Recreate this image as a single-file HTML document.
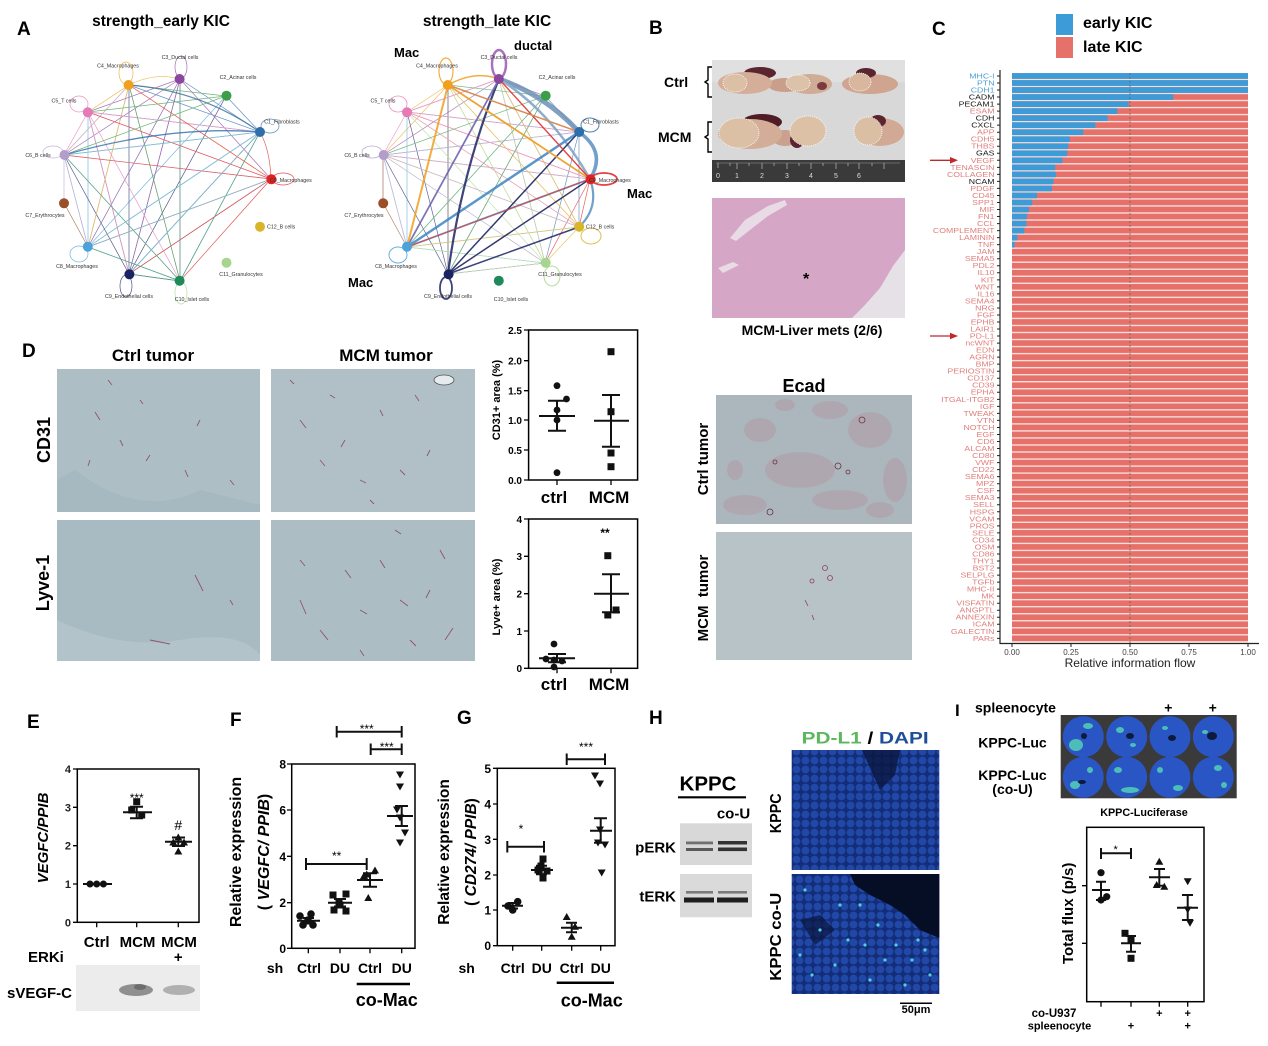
<!DOCTYPE html>
<html><head><meta charset="utf-8"><style>
html,body{margin:0;padding:0;background:#fff;}
svg{display:block;}
text{font-family:"Liberation Sans",Arial,sans-serif;}
</style></head><body>
<svg width="1268" height="1046" viewBox="0 0 1268 1046" xmlns="http://www.w3.org/2000/svg">
<defs>
<pattern id="bars" patternUnits="userSpaceOnUse" x="0" y="73.1" width="20" height="7.03"><rect width="20" height="5.75" fill="#e5716a"/><rect y="5.75" width="20" height="1.28" fill="#fadcd9"/></pattern>
<pattern id="cells" patternUnits="userSpaceOnUse" width="9" height="9"><rect width="9" height="9" fill="#132d78"/><circle cx="4.5" cy="4.5" r="3.9" fill="#2148a6"/></pattern>
<pattern id="cells2" patternUnits="userSpaceOnUse" width="9" height="9" x="3" y="2"><rect width="9" height="9" fill="#132d78"/><circle cx="4.5" cy="4.5" r="3.9" fill="#2148a6"/></pattern>
</defs>
<rect width="1268" height="1046" fill="#fff"/>

<!-- ============ PANEL A ============ -->
<text x="17" y="35" font-size="19" font-weight="bold">A</text>
<text x="161" y="26" font-size="15.5" font-weight="bold" text-anchor="middle">strength_early KIC</text>
<text x="487" y="26" font-size="15.5" font-weight="bold" text-anchor="middle">strength_late KIC</text>

<g fill="none" stroke-width="0.7" opacity="0.75">
<path stroke="#2e6eaa" d="M260 132L129 85 M260 132L88 112 M260 132L64 155 M260 132L88 247 M260 132L129 274 M260 132L180 281 M260 132L180 79 M260 132L226 96"/>
<path stroke="#4ba3da" d="M88 247L180 79 M88 247L129 85 M88 247L271 179 M88 247L180 281 M88 247L88 112 M88 247L64 155 M88 247L226 96 M88 247L260 132"/>
<path stroke="#1b2463" d="M129 274L180 79 M129 274L129 85 M129 274L64 155 M129 274L271 179 M129 274L88 112 M129 274L260 132 M129 274L180 281 M129 274L226 96"/>
<path stroke="#efa01f" d="M129 85L88 112 M129 85L64 155 M129 85L271 179 M129 85L180 281 M129 85L88 247 M129 85Q155 72 180 79"/>
<path stroke="#8b46a0" d="M180 79L88 112 M180 79L64 155 M180 79L271 179 M180 79L180 281 M180 79L88 247 M180 79L129 274"/>
<path stroke="#e67ab5" d="M88 112L64 155 M88 112L271 179 M88 112L180 281 M88 112L260 132 M88 112L129 274"/>
<path stroke="#b39dcb" d="M64 155L64 203 M64 155L88 247 M64 155L180 281 M64 155L271 179 M64 155L129 85"/>
<path stroke="#dd2323" d="M271 179L88 112 M271 179L64 155 M271 179L88 247 M271 179L129 274 M271 179L180 281 M271 179L129 85 M271 179Q270 150 260 132"/>
<path stroke="#1e8a5a" d="M180 281L129 274 M180 281L180 79 M180 281L129 85 M180 281L64 155 M180 281L260 132 M180 281L88 247"/>
<path stroke="#3c9e48" d="M226 96L129 85 M226 96L64 155 M226 96L88 112"/>
<path stroke="#9a4f28" d="M64 203L88 247"/>
<path stroke="#5ab0c8" d="M88 247L260 132 M64 155L260 132 M129 274L260 132 M88 247L271 179"/>
</g>
<path d="M64 155Q170 125 260 132" fill="none" stroke="#2e6eaa" stroke-width="1.3" opacity="0.8"/>
<path d="M129 85Q200 90 260 132" fill="none" stroke="#3d6f9e" stroke-width="1.2" opacity="0.8"/>
<g fill="none" stroke-width="0.7" opacity="0.8">
<ellipse cx="126" cy="73" rx="7" ry="11" stroke="#efa01f"/>
<ellipse cx="181" cy="67" rx="6" ry="11" stroke="#8b46a0"/>
<ellipse cx="79" cy="104" rx="9" ry="8" stroke="#e67ab5"/>
<ellipse cx="53" cy="152" rx="10" ry="6" stroke="#b39dcb"/>
<ellipse cx="270" cy="126" rx="9" ry="7" stroke="#2e6eaa"/>
<ellipse cx="283" cy="179" rx="11" ry="6" stroke="#dd2323"/>
<ellipse cx="79" cy="254" rx="9" ry="8" stroke="#4ba3da"/>
<ellipse cx="126" cy="286" rx="6" ry="11" stroke="#1b2463"/>
<ellipse cx="181" cy="293" rx="6" ry="11" stroke="#a6d58d"/>
</g>
<g>
<circle cx="260" cy="132" r="5" fill="#2e6eaa"/><circle cx="226.5" cy="95.7" r="5" fill="#3c9e48"/>
<circle cx="179.6" cy="79" r="5" fill="#8b46a0"/><circle cx="128.6" cy="85" r="5" fill="#efa01f"/>
<circle cx="87.8" cy="112.3" r="5" fill="#e67ab5"/><circle cx="64.5" cy="155" r="5" fill="#b39dcb"/>
<circle cx="64" cy="203.3" r="5" fill="#9a4f28"/><circle cx="87.8" cy="246.7" r="5" fill="#4ba3da"/>
<circle cx="129.4" cy="274.3" r="5" fill="#1b2463"/><circle cx="179.6" cy="280.7" r="5" fill="#1e8a5a"/>
<circle cx="226.5" cy="262.7" r="5" fill="#a6d58d"/><circle cx="260" cy="226.7" r="5" fill="#d8b52a"/>
<circle cx="271.4" cy="179.3" r="5" fill="#dd2323"/>
</g>
<g font-size="5.3" fill="#333" text-anchor="middle">
<text x="118" y="67.5">C4_Macrophages</text><text x="180" y="59">C3_Ductal cells</text>
<text x="238" y="79">C2_Acinar cells</text><text x="282" y="123.5">C1_Fibroblasts</text>
<text x="270" y="181.8" text-anchor="start">C9_Macrophages</text><text x="267" y="228.5" text-anchor="start">C12_B cells</text>
<text x="241" y="275.8">C11_Granulocytes</text><text x="192" y="301">C10_Islet cells</text>
<text x="129" y="297.8">C9_Endothelial cells</text><text x="77" y="267.8">C8_Macrophages</text>
<text x="45" y="216.8">C7_Erythrocytes</text><text x="38" y="156.8">C6_B cells</text>
<text x="64" y="102.5">C5_T cells</text>
</g>

<!-- late network -->
<g fill="none" stroke-width="0.7" opacity="0.7">
<path stroke="#2e6eaa" d="M579 132L407 112 M579 132L383 155 M579 132L448 274 M579 132L545 96 M579 132L545 263 M579 132L579 227"/>
<path stroke="#efa01f" d="M448 85L407 112 M448 85L383 155 M448 85L545 263 M448 85L448 274 M448 85L579 227"/>
<path stroke="#8b46a0" d="M499 79L407 112 M499 79L383 155 M499 79L545 263 M499 79L579 227 M499 79L545 96"/>
<path stroke="#4ba3da" d="M407 247L407 112 M407 247L383 155 M407 247L579 227 M407 247L545 263 M407 247L545 96"/>
<path stroke="#1b2463" d="M448 274L407 112 M448 274L383 155 M448 274L448 85 M448 274L545 263 M448 274L545 96"/>
<path stroke="#dd2323" d="M590 179L407 112 M590 179L383 155 M590 179L448 274 M590 179L579 227 M590 179L545 263 M590 179L448 85"/>
<path stroke="#d8b52a" d="M579 227L407 247 M579 227L383 155 M579 227L407 112 M579 227L448 85 M579 227L499 79 M579 227L545 263"/>
<path stroke="#a6d58d" d="M545 263L448 274 M545 263L407 247 M545 263L383 155 M545 263L448 85 M545 263L499 79 M545 263L407 112"/>
<path stroke="#e67ab5" d="M407 112L499 79 M407 112L579 132 M407 112L590 179 M407 112L579 227 M407 112L383 155"/>
<path stroke="#b39dcb" d="M383 155L579 132 M383 155L590 179 M383 155L579 227 M383 155L545 263 M383 155L383 203 M383 155L407 247"/>
<path stroke="#3c9e48" d="M545 96L448 85 M545 96L407 247 M545 96L383 155 M545 96L448 274"/>
<path stroke="#9a4f28" d="M383 203L383 155 M383 203L407 247"/>
</g>
<g fill="none" opacity="0.85">
<path d="M499 79Q545 95 579 132" stroke="#6d90b6" stroke-width="5"/>
<path d="M499 79Q550 110 590 179" stroke="#7fa0c4" stroke-width="2.5"/>
<path d="M579 132Q607 152 590 179" stroke="#5b8fc2" stroke-width="3.5"/>
<path d="M590 179Q600 207 579 227" stroke="#5b8fc2" stroke-width="2.2"/>
<path d="M407 247L579 132" stroke="#3a86c6" stroke-width="2.5"/>
<path d="M407 247L590 179" stroke="#4ba3da" stroke-width="2"/>
<path d="M448 274Q462 170 499 79" stroke="#1b2463" stroke-width="2.2"/>
<path d="M448 274L579 132" stroke="#1b2463" stroke-width="1.5"/>
<path d="M448 274L590 179" stroke="#1b2463" stroke-width="1.5"/>
<path d="M448 274L579 227" stroke="#1b2463" stroke-width="1.5"/>
<path d="M407 247L499 79" stroke="#3e7fbf" stroke-width="1.8"/>
<path d="M448 85L407 247" stroke="#efa01f" stroke-width="2"/>
<path d="M448 85L590 179" stroke="#efa01f" stroke-width="1.8"/>
<path d="M448 85Q475 70 499 79" stroke="#efa01f" stroke-width="1.5"/>
<path d="M499 79L590 179" stroke="#dd2323" stroke-width="1.4"/>
<path d="M448 85L579 132" stroke="#d27a3a" stroke-width="1.5"/>
<path d="M590 179L407 247" stroke="#dd2323" stroke-width="1"/>
<path d="M499 79L407 247" stroke="#8b46a0" stroke-width="1"/>
</g>
<g fill="none" opacity="0.85">
<ellipse cx="499" cy="64" rx="7" ry="14" stroke="#9b59b6" stroke-width="2.5"/>
<ellipse cx="446" cy="71" rx="7" ry="13" stroke="#efa01f" stroke-width="1.2"/>
<ellipse cx="604" cy="179" rx="13" ry="6" stroke="#dd2323" stroke-width="1.8"/>
<ellipse cx="590" cy="125" rx="9" ry="7" stroke="#2e6eaa" stroke-width="1"/>
<ellipse cx="591" cy="236" rx="10" ry="8" stroke="#d8b52a" stroke-width="1"/>
<ellipse cx="552" cy="276" rx="8" ry="10" stroke="#a6d58d" stroke-width="1"/>
<ellipse cx="398" cy="255" rx="9" ry="8" stroke="#4ba3da" stroke-width="1"/>
<ellipse cx="446" cy="288" rx="6" ry="11" stroke="#1b2463" stroke-width="1.8"/>
<ellipse cx="398" cy="104" rx="9" ry="8" stroke="#e67ab5" stroke-width="0.8"/>
<ellipse cx="372" cy="152" rx="10" ry="6" stroke="#b39dcb" stroke-width="0.8"/>
</g>
<g>
<circle cx="579.2" cy="132" r="5" fill="#2e6eaa"/><circle cx="545.7" cy="95.7" r="5" fill="#3c9e48"/>
<circle cx="498.8" cy="79" r="5" fill="#8b46a0"/><circle cx="447.8" cy="85" r="5" fill="#efa01f"/>
<circle cx="407" cy="112.3" r="5" fill="#e67ab5"/><circle cx="383.7" cy="155" r="5" fill="#b39dcb"/>
<circle cx="383.2" cy="203.3" r="5" fill="#9a4f28"/><circle cx="407" cy="246.7" r="5" fill="#4ba3da"/>
<circle cx="448.6" cy="274.3" r="5" fill="#1b2463"/><circle cx="498.8" cy="280.7" r="5" fill="#1e8a5a"/>
<circle cx="545.7" cy="262.7" r="5" fill="#a6d58d"/><circle cx="579.2" cy="226.7" r="5" fill="#d8b52a"/>
<circle cx="590.6" cy="179.3" r="5" fill="#dd2323"/>
</g>
<g font-size="5.3" fill="#333" text-anchor="middle">
<text x="437" y="67.5">C4_Macrophages</text><text x="499" y="59">C3_Ductal cells</text>
<text x="557" y="79">C2_Acinar cells</text><text x="601" y="123.5">C1_Fibroblasts</text>
<text x="589" y="181.8" text-anchor="start">C9_Macrophages</text><text x="586" y="228.5" text-anchor="start">C12_B cells</text>
<text x="560" y="275.8">C11_Granulocytes</text><text x="511" y="301">C10_Islet cells</text>
<text x="448" y="297.8">C9_Endothelial cells</text><text x="396" y="267.8">C8_Macrophages</text>
<text x="364" y="216.8">C7_Erythrocytes</text><text x="357" y="156.8">C6_B cells</text>
<text x="383" y="102.5">C5_T cells</text>
</g>
<g font-size="13" font-weight="bold">
<text x="394" y="57">Mac</text><text x="514" y="50">ductal</text>
<text x="627" y="198">Mac</text><text x="348" y="287">Mac</text>
</g>

<!-- ============ PANEL B ============ -->
<text x="649" y="34" font-size="19" font-weight="bold">B</text>
<rect x="712" y="60" width="193" height="122" fill="#d8d8d8"/>
<rect x="712" y="60" width="193" height="22" fill="#e0e0e0"/>
<rect x="712" y="160" width="193" height="22" fill="#3a3a3a"/>
<path d="M716 163H900" stroke="#999" stroke-width="0.6"/>
<g stroke="#bbb" stroke-width="0.7">
<path d="M718 163v5M730 163v3M737 163v6M749 163v3M762 163v6M774 163v3M787 163v6M799 163v3M811 163v6M823 163v3M836 163v6M848 163v3M859 163v6M872 163v3M884 163v6"/>
</g>
<g font-size="7" fill="#ddd"><text x="716" y="178">0</text><text x="735" y="178">1</text><text x="760" y="178">2</text><text x="785" y="178">3</text><text x="809" y="178">4</text><text x="834" y="178">5</text><text x="857" y="178">6</text></g>
<!-- ctrl tissues -->
<ellipse cx="785" cy="85" rx="17" ry="7" fill="#c99f8c"/>
<ellipse cx="760" cy="73" rx="16" ry="6" fill="#5b2530"/>
<ellipse cx="745" cy="83" rx="27" ry="11" fill="#d4ae98"/>
<ellipse cx="735" cy="83" rx="12" ry="9" fill="#dcc0a6" stroke="#fff" stroke-width="0.8" stroke-dasharray="1 1"/>
<ellipse cx="810" cy="84" rx="22" ry="10" fill="#d0ab95"/>
<ellipse cx="822" cy="86" rx="5" ry="4" fill="#7b3a40"/>
<ellipse cx="798" cy="83" rx="12" ry="8" fill="#dcc2a8" stroke="#fff" stroke-width="0.8" stroke-dasharray="1 1"/>
<ellipse cx="870" cy="84" rx="28" ry="10" fill="#cfa590"/>
<ellipse cx="866" cy="73" rx="10" ry="5" fill="#5b2530"/>
<ellipse cx="860" cy="82" rx="11" ry="9" fill="#d8b79e" stroke="#fff" stroke-width="0.8" stroke-dasharray="1 1"/>
<!-- mcm tissues -->
<ellipse cx="785" cy="138" rx="13" ry="8" fill="#caa08e"/>
<ellipse cx="762" cy="122" rx="20" ry="8" fill="#4e1d26"/>
<ellipse cx="750" cy="134" rx="32" ry="15" fill="#d3ad98"/>
<ellipse cx="739" cy="133" rx="20" ry="15" fill="#dcc0a6" stroke="#fff" stroke-width="0.8" stroke-dasharray="1 1"/>
<ellipse cx="797" cy="140" rx="7" ry="8" fill="#5b2530"/>
<ellipse cx="808" cy="131" rx="18" ry="15" fill="#dcc1a6" stroke="#fff" stroke-width="0.8" stroke-dasharray="1 1"/>
<ellipse cx="880" cy="132" rx="24" ry="14" fill="#d2a994"/>
<ellipse cx="878" cy="121" rx="8" ry="6" fill="#5b2530"/>
<ellipse cx="868" cy="131" rx="14" ry="14" fill="#dbbfa5" stroke="#fff" stroke-width="0.8" stroke-dasharray="1 1"/>
<g font-size="14" font-weight="bold"><text x="664" y="87">Ctrl</text><text x="658" y="142">MCM</text></g>
<g fill="none" stroke="#000" stroke-width="1.4">
<path d="M712 67H708V80L705 82L708 84V97H712"/><path d="M712 122H708V135L705 137L708 139V152H712"/>
</g>
<rect x="712" y="198" width="193" height="120" fill="#d5a6c6"/>
<path d="M730 238L745 220L768 206L785 200L787 205L768 216L750 230L736 241Z" fill="#e8dbe6"/>
<path d="M718 268L733 262L739 265L723 273Z" fill="#e8dbe6"/>
<path d="M905 250L893 266L880 288L864 306L852 318L905 318Z" fill="#e6e1e7"/>
<text x="803" y="284" font-size="16" font-weight="bold">*</text>
<text x="812" y="335" font-size="14" font-weight="bold" text-anchor="middle">MCM-Liver mets (2/6)</text>

<!-- ============ PANEL C ============ -->
<text x="932" y="35" font-size="19" font-weight="bold">C</text>
<rect x="1056" y="14" width="17" height="21" fill="#3d9bd8"/>
<rect x="1056" y="37" width="17" height="21" fill="#e5716a"/>
<text x="1083" y="28" font-size="16" font-weight="bold">early KIC</text>
<text x="1083" y="52" font-size="16" font-weight="bold">late KIC</text>
<rect x="1012" y="73.1" width="236" height="569.4" fill="url(#bars)"/>
<g fill="#3d9bd8">
<rect x="1012" y="73.1" width="236" height="5.75"/><rect x="1012" y="80.13" width="236" height="5.75"/>
<rect x="1012" y="87.16" width="236" height="5.75"/><rect x="1012" y="94.19" width="161.2" height="5.75"/>
<rect x="1012" y="101.22" width="116.6" height="5.75"/><rect x="1012" y="108.25" width="105.3" height="5.75"/>
<rect x="1012" y="115.28" width="95.6" height="5.75"/><rect x="1012" y="122.31" width="83.3" height="5.75"/>
<rect x="1012" y="129.34" width="71.3" height="5.75"/><rect x="1012" y="136.37" width="57.8" height="5.75"/>
<rect x="1012" y="143.4" width="56.2" height="5.75"/><rect x="1012" y="150.43" width="55.2" height="5.75"/>
<rect x="1012" y="157.46" width="50.5" height="5.75"/><rect x="1012" y="164.49" width="43.2" height="5.75"/>
<rect x="1012" y="171.52" width="43.9" height="5.75"/><rect x="1012" y="178.55" width="41.5" height="5.75"/>
<rect x="1012" y="185.58" width="39.9" height="5.75"/><rect x="1012" y="192.61" width="25" height="5.75"/>
<rect x="1012" y="199.64" width="20.3" height="5.75"/><rect x="1012" y="206.67" width="17" height="5.75"/>
<rect x="1012" y="213.7" width="14.9" height="5.75"/><rect x="1012" y="220.73" width="14.4" height="5.75"/>
<rect x="1012" y="227.76" width="12.3" height="5.75"/><rect x="1012" y="234.79" width="5.4" height="5.75"/>
<rect x="1012" y="241.82" width="2.6" height="5.75"/>
</g>
<line x1="1130" y1="73" x2="1130" y2="643" stroke="#666" stroke-width="0.8" stroke-dasharray="2 2"/>
<line x1="1000" y1="70" x2="1000" y2="644" stroke="#222" stroke-width="1.2"/>
<line x1="1000" y1="643.5" x2="1259" y2="643.5" stroke="#222" stroke-width="1.2"/>
<line x1="998.5" y1="75.45" x2="998.5" y2="643" stroke="#222" stroke-width="3" stroke-dasharray="1 6.03"/>
<g stroke="#222" stroke-width="1"><path d="M1012 644v3M1071 644v3M1130 644v3M1189 644v3M1248 644v3"/></g>
<g font-size="8" fill="#444" text-anchor="middle"><text x="1012" y="655">0.00</text><text x="1071" y="655">0.25</text><text x="1130" y="655">0.50</text><text x="1189" y="655">0.75</text><text x="1248" y="655">1.00</text></g>
<text x="1130" y="667" font-size="12" fill="#222" text-anchor="middle">Relative information flow</text>
<g transform="translate(994.5,78.4) scale(1.25,1)" font-size="7" text-anchor="end" fill="#e0807e">
<text><tspan x="0" y="0" fill="#4d9fd6">MHC-I</tspan><tspan x="0" dy="7.03" fill="#4d9fd6">PTN</tspan><tspan x="0" dy="7.03" fill="#4d9fd6">CDH1</tspan><tspan x="0" dy="7.03" fill="#1a1a1a">CADM</tspan><tspan x="0" dy="7.03" fill="#1a1a1a">PECAM1</tspan><tspan x="0" dy="7.03">ESAM</tspan><tspan x="0" dy="7.03" fill="#1a1a1a">CDH</tspan><tspan x="0" dy="7.03" fill="#1a1a1a">CXCL</tspan><tspan x="0" dy="7.03">APP</tspan><tspan x="0" dy="7.03">CDH5</tspan><tspan x="0" dy="7.03">THBS</tspan><tspan x="0" dy="7.03" fill="#1a1a1a">GAS</tspan><tspan x="0" dy="7.03">VEGF</tspan><tspan x="0" dy="7.03">TENASCIN</tspan><tspan x="0" dy="7.03">COLLAGEN</tspan><tspan x="0" dy="7.03" fill="#1a1a1a">NCAM</tspan><tspan x="0" dy="7.03">PDGF</tspan><tspan x="0" dy="7.03">CD45</tspan><tspan x="0" dy="7.03">SPP1</tspan><tspan x="0" dy="7.03">MIF</tspan><tspan x="0" dy="7.03">FN1</tspan><tspan x="0" dy="7.03">CCL</tspan><tspan x="0" dy="7.03">COMPLEMENT</tspan><tspan x="0" dy="7.03">LAMININ</tspan><tspan x="0" dy="7.03">TNF</tspan><tspan x="0" dy="7.03">JAM</tspan><tspan x="0" dy="7.03">SEMA5</tspan><tspan x="0" dy="7.03">PDL2</tspan><tspan x="0" dy="7.03">IL10</tspan><tspan x="0" dy="7.03">KIT</tspan><tspan x="0" dy="7.03">WNT</tspan><tspan x="0" dy="7.03">IL16</tspan><tspan x="0" dy="7.03">SEMA4</tspan><tspan x="0" dy="7.03">NRG</tspan><tspan x="0" dy="7.03">FGF</tspan><tspan x="0" dy="7.03">EPHB</tspan><tspan x="0" dy="7.03">LAIR1</tspan><tspan x="0" dy="7.03">PD-L1</tspan><tspan x="0" dy="7.03">ncWNT</tspan><tspan x="0" dy="7.03">EDN</tspan><tspan x="0" dy="7.03">AGRN</tspan><tspan x="0" dy="7.03">BMP</tspan><tspan x="0" dy="7.03">PERIOSTIN</tspan><tspan x="0" dy="7.03">CD137</tspan><tspan x="0" dy="7.03">CD39</tspan><tspan x="0" dy="7.03">EPHA</tspan><tspan x="0" dy="7.03">ITGAL-ITGB2</tspan><tspan x="0" dy="7.03">IGF</tspan><tspan x="0" dy="7.03">TWEAK</tspan><tspan x="0" dy="7.03">VTN</tspan><tspan x="0" dy="7.03">NOTCH</tspan><tspan x="0" dy="7.03">EGF</tspan><tspan x="0" dy="7.03">CD6</tspan><tspan x="0" dy="7.03">ALCAM</tspan><tspan x="0" dy="7.03">CD80</tspan><tspan x="0" dy="7.03">VWF</tspan><tspan x="0" dy="7.03">CD22</tspan><tspan x="0" dy="7.03">SEMA6</tspan><tspan x="0" dy="7.03">MPZ</tspan><tspan x="0" dy="7.03">CSF</tspan><tspan x="0" dy="7.03">SEMA3</tspan><tspan x="0" dy="7.03">SELL</tspan><tspan x="0" dy="7.03">HSPG</tspan><tspan x="0" dy="7.03">VCAM</tspan><tspan x="0" dy="7.03">PROS</tspan><tspan x="0" dy="7.03">SELE</tspan><tspan x="0" dy="7.03">CD34</tspan><tspan x="0" dy="7.03">OSM</tspan><tspan x="0" dy="7.03">CD86</tspan><tspan x="0" dy="7.03">THY1</tspan><tspan x="0" dy="7.03">BST2</tspan><tspan x="0" dy="7.03">SELPLG</tspan><tspan x="0" dy="7.03">TGFb</tspan><tspan x="0" dy="7.03">MHC-II</tspan><tspan x="0" dy="7.03">MK</tspan><tspan x="0" dy="7.03">VISFATIN</tspan><tspan x="0" dy="7.03">ANGPTL</tspan><tspan x="0" dy="7.03">ANNEXIN</tspan><tspan x="0" dy="7.03">ICAM</tspan><tspan x="0" dy="7.03">GALECTIN</tspan><tspan x="0" dy="7.03">PARs</tspan></text>
</g>
<g stroke="#c0282d" stroke-width="1.3" fill="#c0282d">
<line x1="930" y1="160.3" x2="952" y2="160.3"/><path d="M958 160.3L950 157V163.6Z" stroke="none"/>
<line x1="930" y1="336" x2="952" y2="336"/><path d="M958 336L950 332.7V339.3Z" stroke="none"/>
</g>

<!-- ============ PANEL D ============ -->
<text x="22" y="357" font-size="19" font-weight="bold">D</text>
<text x="153" y="361" font-size="17" font-weight="bold" text-anchor="middle">Ctrl tumor</text>
<text x="386" y="361" font-size="17" font-weight="bold" text-anchor="middle">MCM tumor</text>
<rect x="57" y="369" width="203" height="143" fill="#adbec5"/>
<rect x="271" y="369" width="204" height="143" fill="#b0c0c6"/>
<rect x="57" y="520" width="203" height="141" fill="#a9bbc2"/>
<rect x="271" y="520" width="204" height="141" fill="#adbdc4"/>
<path d="M75 470Q140 520 200 490L260 505V512H57V480Z" fill="#a2b4bb" opacity="0.5"/>
<path d="M57 620Q120 650 180 640T260 655V661H57Z" fill="#b7c8cd" opacity="0.7"/>
<g fill="none" stroke="#8a3a55" stroke-width="0.9" opacity="0.8">
<path d="M95 412l5 8M120 440l3 6M150 455l-4 6M108 380l4 5M185 470l3 7M200 420l-3 6M140 400l3 4M230 480l4 5M90 460l-2 6"/>
<path d="M300 420l6 8M320 460l5 6M345 440l-4 7M360 480l6 3M380 410l3 6M400 470l5 5M430 450l-3 6M290 380l4 4M415 395l4 6M370 500l4 4M330 395l5 3"/>
<path d="M195 575l8 16M150 640l20 4M230 600l3 5"/>
<path d="M300 600l6 14M320 630l8 10M345 570l6 8M360 610l7 4M380 560l5 8M400 600l8 6M430 590l-4 8M445 640l8 -12M300 560l5 6M410 640l6 6M360 650l4 6M440 550l5 9M395 530l6 4"/>
</g>
<ellipse cx="444" cy="380" rx="10" ry="5" fill="#e6ecee" stroke="#555" stroke-width="0.8"/>
<text transform="translate(50,440) rotate(-90)" font-size="18" font-weight="bold" text-anchor="middle">CD31</text>
<text transform="translate(49,583) rotate(-90)" font-size="18" font-weight="bold" text-anchor="middle">Lyve-1</text>
<!-- CD31 chart -->
<rect x="528.6" y="330" width="109" height="150" fill="none" stroke="#000" stroke-width="1.5"/>
<g stroke="#000" stroke-width="1.3"><path d="M524 330h4.6M524 360.7h4.6M524 390.7h4.6M524 420h4.6M524 450h4.6M524 480h4.6M557 480v5M611 480v5"/></g>
<g font-size="10" font-weight="bold" text-anchor="end"><text x="522" y="334">2.5</text><text x="522" y="364.5">2.0</text><text x="522" y="394.5">1.5</text><text x="522" y="424">1.0</text><text x="522" y="454">0.5</text><text x="522" y="484">0.0</text></g>
<text transform="translate(500,400) rotate(-90)" font-size="11" font-weight="bold" text-anchor="middle">CD31+ area (%)</text>
<g font-size="17" font-weight="bold" text-anchor="middle"><text x="554" y="503">ctrl</text><text x="609" y="503">MCM</text></g>
<g fill="#111"><circle cx="557" cy="385.7" r="3.4"/><circle cx="566.5" cy="399" r="3.4"/><circle cx="557" cy="410" r="3.4"/><circle cx="557" cy="420" r="3.4"/><circle cx="557" cy="472.7" r="3.4"/>
<rect x="607.5" y="348.2" width="7" height="7"/><rect x="607.5" y="408.2" width="7" height="7"/><rect x="607.5" y="449.5" width="7" height="7"/><rect x="607.5" y="463.2" width="7" height="7"/></g>
<g stroke="#111" stroke-width="2" fill="none"><path d="M539 416H575M557 400.7V430.7M548 400.7H566M548 430.7H566"/><path d="M594 420.7H629M611 395V446.7M602 395H620M602 446.7H620"/></g>
<!-- Lyve chart -->
<rect x="528.6" y="519" width="109" height="149.3" fill="none" stroke="#000" stroke-width="1.5"/>
<g stroke="#000" stroke-width="1.3"><path d="M524 519h4.6M524 556.3h4.6M524 593.7h4.6M524 631h4.6M524 668.3h4.6M557 668.3v5M611 668.3v5"/></g>
<g font-size="10" font-weight="bold" text-anchor="end"><text x="522" y="523">4</text><text x="522" y="560">3</text><text x="522" y="597.5">2</text><text x="522" y="635">1</text><text x="522" y="672">0</text></g>
<text transform="translate(500,597) rotate(-90)" font-size="11" font-weight="bold" text-anchor="middle">Lyve+ area (%)</text>
<text x="605" y="537" font-size="12" font-weight="bold" text-anchor="middle">**</text>
<g font-size="17" font-weight="bold" text-anchor="middle"><text x="554" y="690">ctrl</text><text x="609" y="690">MCM</text></g>
<g fill="#111"><circle cx="554" cy="644" r="3.4"/><circle cx="546" cy="659" r="3.4"/><circle cx="554" cy="660" r="3.4"/><circle cx="562" cy="661" r="3.4"/><circle cx="554" cy="667" r="3.4"/>
<rect x="604.3" y="552.2" width="7" height="7"/><rect x="612.5" y="606.5" width="7" height="7"/><rect x="604.3" y="611.5" width="7" height="7"/></g>
<g stroke="#111" stroke-width="2" fill="none"><path d="M539 658.3H575M557 654V662.3M548 654H566M548 662.3H566"/><path d="M594 593.7H629M611 574.3V612.3M602 574.3H620M602 612.3H620"/></g>

<!-- Ecad -->
<text x="804" y="392" font-size="18" font-weight="bold" text-anchor="middle">Ecad</text>
<rect x="716" y="395" width="196" height="129" fill="#abb7bc"/>
<g fill="#b98c9c" opacity="0.35">
<ellipse cx="800" cy="470" rx="35" ry="18"/><ellipse cx="870" cy="430" rx="22" ry="18"/><ellipse cx="760" cy="430" rx="16" ry="12"/>
<ellipse cx="840" cy="500" rx="28" ry="10"/><ellipse cx="895" cy="480" rx="12" ry="22"/><ellipse cx="745" cy="505" rx="22" ry="10"/><ellipse cx="830" cy="410" rx="18" ry="9"/>
<ellipse cx="785" cy="405" rx="10" ry="6"/><ellipse cx="880" cy="510" rx="14" ry="8"/><ellipse cx="735" cy="470" rx="8" ry="10"/>
</g>
<g fill="none" stroke="#6a3040" stroke-width="0.8"><circle cx="862" cy="420" r="3"/><circle cx="838" cy="466" r="3"/><circle cx="848" cy="472" r="2"/><circle cx="775" cy="462" r="2"/><circle cx="770" cy="512" r="3"/></g>
<rect x="716" y="532" width="196" height="128" fill="#b8c3c8"/>
<g fill="none" stroke="#8a4050" stroke-width="0.8"><circle cx="825" cy="568" r="2.5"/><circle cx="830" cy="578" r="2.5"/><circle cx="812" cy="581" r="2"/><path d="M805 600l3 6M812 615l2 5"/></g>
<text transform="translate(708,459) rotate(-90)" font-size="15" font-weight="bold" text-anchor="middle">Ctrl tumor</text>
<text transform="translate(708,598) rotate(-90)" font-size="15" font-weight="bold" text-anchor="middle" xml:space="preserve">MCM  tumor</text>

<!-- ============ PANEL E ============ -->
<text x="27" y="728" font-size="19" font-weight="bold">E</text>
<rect x="77.3" y="769" width="121.7" height="153.3" fill="none" stroke="#000" stroke-width="1.5"/>
<g stroke="#000" stroke-width="1.3"><path d="M73 769h4.3M73 807.3h4.3M73 845.7h4.3M73 884h4.3M73 922.3h4.3M96.7 922.3v5M136.7 922.3v5M178.3 922.3v5"/></g>
<g font-size="11" font-weight="bold" text-anchor="end" fill="#222"><text x="71" y="773">4</text><text x="71" y="811.3">3</text><text x="71" y="849.7">2</text><text x="71" y="888">1</text><text x="71" y="926.3">0</text></g>
<text transform="translate(48,838) rotate(-90)" font-size="15" font-weight="bold" font-style="italic" text-anchor="middle">VEGFC/PPIB</text>
<g fill="#111"><circle cx="90" cy="884" r="3.5"/><circle cx="96.7" cy="884" r="3.5"/><circle cx="103.4" cy="884" r="3.5"/>
<rect x="133.2" y="798.2" width="7" height="7"/><rect x="128.2" y="806.5" width="7" height="7"/><rect x="138.2" y="811.5" width="7" height="7"/>
<path d="M178.3 833.5L182.3 840.5H174.3Z"/><path d="M173.3 838.5L177.3 845.5H169.3Z"/><path d="M178.3 847.5L182.3 854.5H174.3Z"/><path d="M184 838.5L188 845.5H180Z"/></g>
<g stroke="#111" stroke-width="2" fill="none"><path d="M83 884H112"/><path d="M123 812.3H152M136.7 806.7V818.3M130 806.7H143M130 818.3H143"/><path d="M165 841.7H192M178.3 837.5V846M172 837.5H185M172 846H185"/></g>
<text x="136.7" y="802" font-size="12" text-anchor="middle">***</text>
<text x="178.3" y="830" font-size="14" text-anchor="middle">#</text>
<g font-size="15" font-weight="bold" text-anchor="middle"><text x="96.7" y="947">Ctrl</text><text x="137.5" y="947">MCM</text><text x="179" y="947">MCM</text><text x="178.3" y="962">+</text></g>
<text x="28" y="962" font-size="15" font-weight="bold">ERKi</text>
<rect x="76" y="965" width="124" height="46" fill="#ececec"/>
<ellipse cx="136" cy="990" rx="17" ry="6" fill="#858585" opacity="0.9"/>
<ellipse cx="140" cy="987" rx="6" ry="3" fill="#555" opacity="0.6"/>
<ellipse cx="179" cy="990" rx="16" ry="5" fill="#b0b0b0"/>
<text x="7" y="998" font-size="15" font-weight="bold">sVEGF-C</text>

<!-- ============ PANEL F ============ -->
<text x="230" y="726" font-size="19" font-weight="bold">F</text>
<rect x="291.7" y="764" width="123.3" height="184.3" fill="none" stroke="#000" stroke-width="1.5"/>
<g stroke="#000" stroke-width="1.3"><path d="M287 764h4.7M287 810h4.7M287 856.3h4.7M287 902.7h4.7M287 948.3h4.7M308.3 948.3v5M340 948.3v5M370 948.3v5M401.7 948.3v5"/></g>
<g font-size="12" font-weight="bold" text-anchor="end"><text x="286" y="768.5">8</text><text x="286" y="814.5">6</text><text x="286" y="860.8">4</text><text x="286" y="907.2">2</text><text x="286" y="952.8">0</text></g>
<text transform="translate(241,852) rotate(-90)" font-size="16" font-weight="bold" text-anchor="middle">Relative expression</text>
<text transform="translate(269,852) rotate(-90)" font-size="16" font-weight="bold" text-anchor="middle">( <tspan font-style="italic">VEGFC/ PPIB</tspan>)</text>
<g fill="#111"><circle cx="300" cy="916" r="3.8"/><circle cx="311" cy="914" r="3.8"/><circle cx="303" cy="925" r="3.8"/><circle cx="313" cy="925" r="3.8"/><circle cx="308" cy="920" r="3.8"/>
<rect x="329.5" y="891.5" width="7" height="7"/><rect x="342.5" y="890.5" width="7" height="7"/><rect x="335.5" y="898.5" width="7" height="7"/><rect x="330.5" y="906.5" width="7" height="7"/><rect x="342.5" y="907.5" width="7" height="7"/><rect x="336.5" y="901.5" width="7" height="7"/>
<path d="M366.7 870.5L370.7 877.5H362.7Z"/><path d="M375 866.5L379 873.5H371Z"/><path d="M368.3 894L372.3 901H364.3Z"/><path d="M364 872L368 879H360Z"/>
<path d="M396 771.5H404L400 778.5Z"/><path d="M396 783.5H404L400 790.5Z"/><path d="M393 806.5H401L397 813.5Z"/><path d="M396 814.5H404L400 821.5Z"/><path d="M401 829.5H409L405 836.5Z"/><path d="M396 839.5H404L400 846.5Z"/></g>
<g stroke="#111" stroke-width="2" fill="none"><path d="M297 920.7H320M308.3 918V923.5M303 918H314M303 923.5H314"/><path d="M328 902.7H352M340 899V906.5M334 899H346M334 906.5H346"/><path d="M357 880H383M370 873.3V886.7M363 873.3H377M363 886.7H377"/><path d="M387 816H413M401.7 806V826M395 806H408M395 826H408"/></g>
<g stroke="#111" stroke-width="2" fill="none"><path d="M336.7 731.7H401.7M336.7 726V737.5M401.7 726V737.5"/><path d="M370.7 749.3H401.7M370.7 743.5V755M401.7 743.5V755"/><path d="M306 864H366.7M306 858V870M366.7 858V870"/></g>
<g font-size="12" text-anchor="middle"><text x="366.7" y="733">***</text><text x="386.7" y="751">***</text><text x="336.7" y="860">**</text></g>
<g font-size="14" font-weight="bold" text-anchor="middle"><text x="275" y="973">sh</text><text x="309" y="973">Ctrl</text><text x="340" y="973">DU</text><text x="370" y="973">Ctrl</text><text x="401.7" y="973">DU</text></g>
<path d="M356.7 984H410" stroke="#000" stroke-width="2.5"/>
<text x="386.7" y="1006" font-size="18" font-weight="bold" text-anchor="middle">co-Mac</text>

<!-- ============ PANEL G ============ -->
<text x="457" y="724" font-size="19" font-weight="bold">G</text>
<rect x="497.3" y="768.3" width="117.7" height="177.4" fill="none" stroke="#000" stroke-width="1.5"/>
<g stroke="#000" stroke-width="1.3"><path d="M493 768.3h4.3M493 804h4.3M493 839.3h4.3M493 875h4.3M493 910h4.3M493 945.7h4.3M512.7 945.7v5M541.7 945.7v5M571.7 945.7v5M600.7 945.7v5"/></g>
<g font-size="12" font-weight="bold" text-anchor="end"><text x="491" y="772.8">5</text><text x="491" y="808.5">4</text><text x="491" y="843.8">3</text><text x="491" y="879.5">2</text><text x="491" y="914.5">1</text><text x="491" y="950.2">0</text></g>
<text transform="translate(449,852) rotate(-90)" font-size="15.5" font-weight="bold" text-anchor="middle">Relative expression</text>
<text transform="translate(476,852) rotate(-90)" font-size="15.5" font-weight="bold" text-anchor="middle">( <tspan font-style="italic">CD274/ PPIB</tspan>)</text>
<g fill="#111"><circle cx="517.7" cy="901.7" r="3.8"/><circle cx="512.7" cy="910" r="3.8"/><circle cx="508" cy="906" r="3.8"/>
<rect x="539.5" y="855.5" width="7" height="7"/><rect x="539.5" y="874.5" width="7" height="7"/><rect x="534.5" y="866.5" width="7" height="7"/><rect x="543.5" y="867.5" width="7" height="7"/><rect x="537.5" y="862.5" width="7" height="7"/>
<path d="M566.7 913L570.7 920H562.7Z"/><path d="M575 922.7L579 929.7H571Z"/><path d="M571.7 932.7L575.7 939.7H567.7Z"/>
<path d="M591 772.5H599L595 779.5Z"/><path d="M596 780.5H604L600 787.5Z"/><path d="M596 826.5H604L600 833.5Z"/><path d="M594 839.5H602L598 846.5Z"/><path d="M601 841.5H609L605 848.5Z"/><path d="M597.7 869.5H605.7L601.7 876.5Z"/></g>
<g stroke="#111" stroke-width="2" fill="none"><path d="M502 905.7H523M512.7 903V908.5M508 903H518M508 908.5H518"/><path d="M531 870H553M541.7 865.7V874.3M536 865.7H547M536 874.3H547"/><path d="M561 927.7H582M571.7 922.7V932.3M566 922.7H577M566 932.3H577"/><path d="M590 830.7H612M600.7 818.3V842.7M594 818.3H607M594 842.7H607"/></g>
<g stroke="#111" stroke-width="2" fill="none"><path d="M507.3 846.7H544M507.3 841V852.5M544 841V852.5"/><path d="M566.7 759.3H605M566.7 753.5V765M605 753.5V765"/></g>
<g font-size="12" text-anchor="middle"><text x="521" y="833">*</text><text x="586" y="751">***</text></g>
<g font-size="14" font-weight="bold" text-anchor="middle"><text x="466.7" y="973">sh</text><text x="512.7" y="973">Ctrl</text><text x="541.7" y="973">DU</text><text x="571.7" y="973">Ctrl</text><text x="600.7" y="973">DU</text></g>
<path d="M556.7 982.7H614" stroke="#000" stroke-width="2.5"/>
<text x="591.7" y="1006.5" font-size="18" font-weight="bold" text-anchor="middle">co-Mac</text>

<!-- ============ PANEL H ============ -->
<text x="649" y="724" font-size="19" font-weight="bold">H</text>
<text x="708" y="790.7" font-size="20.5" font-weight="bold" text-anchor="middle">KPPC</text>
<path d="M678 797.3H746" stroke="#000" stroke-width="2.2"/>
<text x="733.5" y="818.3" font-size="15" font-weight="bold" text-anchor="middle">co-U</text>
<rect x="680" y="823.3" width="72" height="41.7" fill="#d8d8d8"/>
<rect x="686" y="841.5" width="27" height="2.8" fill="#707070"/><rect x="686" y="848" width="27" height="3" fill="#5a5a5a"/>
<rect x="718" y="841" width="29" height="3.5" fill="#333"/><rect x="718" y="847.5" width="29" height="3.6" fill="#333"/>
<rect x="680" y="874" width="72" height="43.3" fill="#dadada"/>
<rect x="686" y="891" width="27" height="2.6" fill="#7a7a7a"/><rect x="718" y="891" width="29" height="2.6" fill="#7a7a7a"/>
<rect x="684" y="897.5" width="30" height="5" fill="#1e1e1e"/><rect x="717" y="897.5" width="31" height="5" fill="#1e1e1e"/>
<text x="676" y="852.7" font-size="15" font-weight="bold" text-anchor="end">pERK</text>
<text x="676" y="901.7" font-size="15" font-weight="bold" text-anchor="end">tERK</text>
<text x="801.7" y="743.3" font-size="17" font-weight="bold" textLength="127" lengthAdjust="spacingAndGlyphs"><tspan fill="#5bb85d">PD-L1</tspan> / <tspan fill="#1f4e99">DAPI</tspan></text>
<rect x="791.7" y="750" width="147.6" height="120" fill="url(#cells)"/>
<path d="M862 750L870 768L880 790L895 775L900 750Z" fill="#0b1740" opacity="0.8"/>
<rect x="791.7" y="874" width="147.6" height="120" fill="url(#cells2)"/>
<path d="M850 874H939.3V938L920 930L905 915L890 905L870 895L855 885Z" fill="#060e26"/>
<path d="M800 920L820 915L835 930L815 945Z" fill="#0b1740" opacity="0.7"/>
<g fill="#4fd0e0">
<circle cx="805" cy="890" r="1.6"/><circle cx="820" cy="930" r="1.6"/><circle cx="835" cy="965" r="1.6"/><circle cx="848" cy="940" r="1.6"/><circle cx="860" cy="905" r="1.6"/><circle cx="878" cy="925" r="1.6"/>
<circle cx="896" cy="945" r="1.6"/><circle cx="912" cy="960" r="1.6"/><circle cx="925" cy="950" r="1.6"/><circle cx="930" cy="975" r="1.6"/><circle cx="870" cy="980" r="1.6"/><circle cx="840" cy="905" r="1.6"/>
<circle cx="812" cy="975" r="1.6"/><circle cx="885" cy="960" r="1.6"/><circle cx="905" cy="985" r="1.6"/><circle cx="800" cy="955" r="1.6"/><circle cx="865" cy="945" r="1.6"/><circle cx="918" cy="940" r="1.6"/>
</g>
<text transform="translate(781,813.3) rotate(-90)" font-size="16" font-weight="bold" text-anchor="middle" textLength="40" lengthAdjust="spacingAndGlyphs">KPPC</text>
<text transform="translate(781,936.7) rotate(-90)" font-size="16" font-weight="bold" text-anchor="middle" textLength="88" lengthAdjust="spacingAndGlyphs">KPPC co-U</text>
<path d="M900 1003.3H932" stroke="#000" stroke-width="1.5"/>
<text x="916" y="1013" font-size="11" font-weight="bold" text-anchor="middle">50μm</text>

<!-- ============ PANEL I ============ -->
<text x="955" y="716" font-size="17" font-weight="bold">I</text>
<text x="975" y="712.7" font-size="14" font-weight="bold">spleenocyte</text>
<g font-size="14" font-weight="bold" text-anchor="middle"><text x="1168.3" y="712.7">+</text><text x="1212.7" y="712.7">+</text></g>
<text x="1012.5" y="747.3" font-size="14" font-weight="bold" text-anchor="middle">KPPC-Luc</text>
<text x="1012.5" y="780" font-size="14" font-weight="bold" text-anchor="middle">KPPC-Luc</text>
<text x="1012.5" y="794" font-size="14" font-weight="bold" text-anchor="middle">(co-U)</text>
<rect x="1060.7" y="715" width="176" height="83.3" fill="#3a3a3a"/>
<g fill="#2a55c4">
<circle cx="1083.3" cy="736.7" r="20.5"/><circle cx="1126.7" cy="736.7" r="20.5"/><circle cx="1170" cy="736.7" r="20.5"/><circle cx="1213.3" cy="736.7" r="20.5"/>
<circle cx="1083.3" cy="777.3" r="20.5"/><circle cx="1126.7" cy="777.3" r="20.5"/><circle cx="1170" cy="777.3" r="20.5"/><circle cx="1213.3" cy="777.3" r="20.5"/>
</g>
<g fill="#53d0b8" opacity="0.85">
<ellipse cx="1076" cy="745" rx="7" ry="6"/><ellipse cx="1088" cy="726" rx="5" ry="3"/><ellipse cx="1120" cy="730" rx="4" ry="3"/><ellipse cx="1133" cy="745" rx="3" ry="2"/>
<ellipse cx="1165" cy="728" rx="3" ry="2"/><ellipse cx="1205" cy="732" rx="3" ry="2"/><ellipse cx="1075" cy="785" rx="5" ry="4"/><ellipse cx="1090" cy="770" rx="3" ry="3"/>
<ellipse cx="1130" cy="790" rx="9" ry="3"/><ellipse cx="1118" cy="770" rx="4" ry="3"/><ellipse cx="1178" cy="788" rx="5" ry="3"/><ellipse cx="1160" cy="770" rx="3" ry="3"/>
<ellipse cx="1218" cy="768" rx="4" ry="3"/><ellipse cx="1224" cy="785" rx="3" ry="3"/>
</g>
<g fill="#0d1a3c"><ellipse cx="1130" cy="736" rx="4" ry="3"/><ellipse cx="1172" cy="738" rx="4" ry="3"/><ellipse cx="1212" cy="736" rx="5" ry="4"/><ellipse cx="1084" cy="736" rx="3" ry="3"/><ellipse cx="1082" cy="782" rx="4" ry="2"/></g>
<text x="1144" y="816" font-size="10.8" font-weight="bold" text-anchor="middle">KPPC-Luciferase</text>
<rect x="1086.7" y="827.3" width="117.3" height="174.4" fill="none" stroke="#000" stroke-width="1.5"/>
<g stroke="#000" stroke-width="1.3"><path d="M1082 885.7h4.7M1082 943.3h4.7M1101 1001.7v5M1131 1001.7v5M1159.3 1001.7v5M1187.7 1001.7v5"/></g>
<text transform="translate(1073,913.3) rotate(-90)" font-size="15" font-weight="bold" text-anchor="middle">Total flux (p/s)</text>
<g fill="#111"><circle cx="1101" cy="872.7" r="3.6"/><circle cx="1106.7" cy="896.7" r="3.6"/><circle cx="1101" cy="900" r="3.6"/>
<rect x="1121.5" y="929.8" width="7" height="7"/><rect x="1127.5" y="935.8" width="7" height="7"/><rect x="1127.5" y="954.8" width="7" height="7"/>
<path d="M1159.3 857.7L1163.3 864.7H1155.3Z"/><path d="M1156.7 881L1160.7 888H1152.7Z"/><path d="M1164.3 882.7L1168.3 889.7H1160.3Z"/>
<path d="M1183.7 878.2H1191.7L1187.7 885.2Z"/><path d="M1183.7 906.5H1191.7L1187.7 913.5Z"/><path d="M1186 919.8H1194L1190 926.8Z"/></g>
<g stroke="#111" stroke-width="2" fill="none"><path d="M1092 890H1110M1101 881.7V900M1096 881.7H1106M1096 900H1106"/><path d="M1121 943.3H1141M1131 936V951.7M1126 936H1136M1126 951.7H1136"/><path d="M1149 877.3H1170M1159.3 869V885.7M1154 869H1165M1154 885.7H1165"/><path d="M1177 907.7H1198M1187.7 895V920M1182 895H1193M1182 920H1193"/></g>
<path d="M1101 853.3H1131M1101 848V859M1131 848V859" stroke="#111" stroke-width="2" fill="none"/>
<text x="1115.7" y="853" font-size="11" text-anchor="middle">*</text>
<text x="1054" y="1017" font-size="11.5" font-weight="bold" text-anchor="middle">co-U937</text>
<text x="1059.5" y="1029.5" font-size="11" font-weight="bold" text-anchor="middle">spleenocyte</text>
<g font-size="11" font-weight="bold" text-anchor="middle"><text x="1159.3" y="1017">+</text><text x="1187.7" y="1017">+</text><text x="1131" y="1029.5">+</text><text x="1187.7" y="1029.5">+</text></g>
</svg>
</body></html>
